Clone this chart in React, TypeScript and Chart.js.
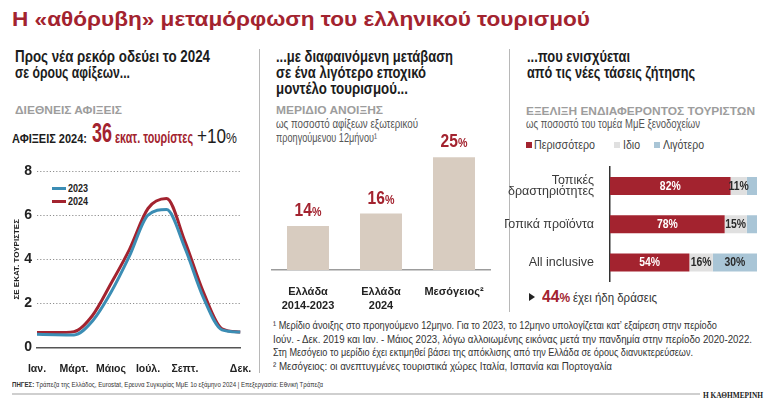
import React, { useEffect, useLayoutEffect, useRef } from 'react';
import { Chart, registerables } from 'chart.js';

Chart.register(...registerables);

const NARROW = '"Liberation Sans Narrow", "Arial Narrow", "Liberation Sans", Arial, sans-serif';
const SANS = '"Liberation Sans", Arial, "DejaVu Sans", sans-serif';
const SERIF = '"Liberation Serif", "DejaVu Serif", serif';

const RED = '#a3232f';
const BLUE = '#3b8db4';
const BEIGE = '#d8ccc0';
const LIGHT_GRAY = '#e0e0e0';
const LIGHT_BLUE = '#a9c5d6';
const HEAD_GRAY = '#9d9d9d';

// ---- Panel 1: international arrivals (million tourists per month)
const monthNumbers = [1, 2, 3, 4, 5, 6, 7, 8, 9, 10, 11, 12];
const arrivals2023 = [0.6, 0.58, 0.57, 1.2, 2.5, 4.15, 6.0, 6.25, 4.5, 2.25, 0.8, 0.7];
const arrivals2024 = [0.68, 0.68, 0.72, 1.45, 2.9, 4.45, 6.3, 6.75, 4.8, 2.5, 0.85, 0.7];
const seriesYears = ['2023', '2024'];
const monthTickValues = [1, 3, 5, 7, 9, 12];
const monthTickLabels = ['Ιαν.', 'Μάρτ.', 'Μάιος', 'Ιούλ.', 'Σεπτ.', 'Δεκ.'];
const arrivalTicks = [0, 2, 4, 6, 8];

// ---- Panel 2: spring share (%)
const springCategories = [['Ελλάδα', '2014-2023'], ['Ελλάδα', '2024'], ['Μεσόγειος²']];
const springShare = [14, 16, 25];

// ---- Panel 3: evolution of tourist interest (% of SME hotels)
const interestCategories = [['Τοπικές', 'δραστηριότητες'], ['Τοπικά προϊόντα'], ['All inclusive']];
const interestSeries = ['Περισσότερο', 'Ιδιο', 'Λιγότερο'];
const interestMore = [82, 78, 54];
const interestSame = [11, 15, 16];
const interestLess = [7, 7, 30];

type TxtProps = {
  x: number; base: number; size: number; w?: number; weight?: any; color?: string; family?: string;
  children: React.ReactNode;
};

function Txt({ x, base, size, w, weight = 400, color = '#222', family = NARROW, children }: TxtProps) {
  const ref = useRef<HTMLDivElement>(null);
  useLayoutEffect(() => {
    const el = ref.current;
    if (!el || !w) return;
    const fit = () => {
      el.style.transform = 'none';
      const actual = el.getBoundingClientRect().width;
      if (actual > 0) el.style.transform = `scaleX(${w / actual})`;
    };
    fit();
    if ((document as any).fonts && (document as any).fonts.ready) (document as any).fonts.ready.then(fit);
  }, [w]);
  return (
    <div
      ref={ref}
      style={{
        position: 'absolute', left: x, top: base - size * 0.8465, fontSize: size, lineHeight: `${size}px`,
        fontWeight: weight, color, fontFamily: family, whiteSpace: 'nowrap', transformOrigin: '0 0',
      }}
    >
      {children}
    </div>
  );
}

function Sp({ size, color, weight, children }: { size: number; color?: string; weight?: any; children: React.ReactNode }) {
  return <span style={{ fontSize: size, lineHeight: `${size}px`, color, fontWeight: weight }}>{children}</span>;
}

function ChartBox({ left, top, width, height, make }: { left: number; top: number; width: number; height: number; make: (c: HTMLCanvasElement) => Chart }) {
  const ref = useRef<HTMLCanvasElement>(null);
  useEffect(() => {
    const chart = make(ref.current as HTMLCanvasElement);
    return () => chart.destroy();
  }, []);
  return <canvas ref={ref} width={width} height={height} style={{ position: 'absolute', left, top, width, height }} />;
}

const zeroPad = (s: any) => { s.paddingLeft = 0; s.paddingRight = 0; s.paddingTop = 0; s.paddingBottom = 0; };

function makeLine(canvas: HTMLCanvasElement) {
  return new Chart(canvas, {
    type: 'line',
    data: {
      datasets: [
        {
          label: seriesYears[0],
          data: monthNumbers.map((m, i) => ({ x: m, y: arrivals2023[i] })),
          borderColor: BLUE, borderWidth: 3, pointRadius: 0, cubicInterpolationMode: 'monotone', fill: false,
        },
        {
          label: seriesYears[1],
          data: monthNumbers.map((m, i) => ({ x: m, y: arrivals2024[i] })),
          borderColor: RED, borderWidth: 3, pointRadius: 0, cubicInterpolationMode: 'monotone', fill: false,
        },
      ],
    },
    options: {
      responsive: false,
      animation: false,
      layout: { padding: { left: 0, right: 17.5, top: 11, bottom: 0 } },
      plugins: { legend: { display: false }, tooltip: { enabled: false } },
      scales: {
        x: {
          type: 'linear', min: 1, max: 12,
          grid: { display: false },
          border: { display: true, color: '#555', width: 1.5 },
          afterBuildTicks: (s: any) => { s.ticks = monthTickValues.map((v) => ({ value: v })); },
          ticks: {
            callback: (_v: any, i: number) => monthTickLabels[i],
            font: { family: SANS, size: 10.5, weight: 'bold' }, color: '#222', padding: 7,
            maxRotation: 0, autoSkip: false,
          },
          afterFit: (s: any) => { s.height = 27.5; zeroPad(s); },
        },
        y: {
          min: 0, max: 8,
          afterBuildTicks: (s: any) => { s.ticks = arrivalTicks.map((v) => ({ value: v })); },
          grid: {
            color: (c: any) => (c.tick && c.tick.value === 0 ? 'rgba(0,0,0,0)' : '#8f8f8f'),
            lineWidth: 1, drawTicks: false,
          },
          border: { display: false, dash: [1.2, 2] },
          ticks: { font: { family: SANS, size: 14, weight: 'bold' }, color: '#222', padding: 5 },
          title: {
            display: true, text: 'ΣΕ ΕΚΑΤ. ΤΟΥΡΙΣΤΕΣ',
            font: { family: SANS, size: 8, weight: 'bold' }, color: '#222', padding: { top: 12, bottom: 0 },
          },
          afterFit: (s: any) => { s.width = 37; zeroPad(s); },
        },
      },
    },
  } as any);
}

const springLabelPlugin = {
  id: 'springLabels',
  afterDatasetsDraw(chart: any) {
    const ctx = chart.ctx;
    const meta = chart.getDatasetMeta(0);
    const sx = 0.82;
    meta.data.forEach((bar: any, i: number) => {
      const num = String(chart.data.datasets[0].data[i]);
      const big = `bold 19px ${SANS}`;
      const small = `bold 13px ${SANS}`;
      ctx.save();
      ctx.font = big; const w1 = ctx.measureText(num).width;
      ctx.font = small; const w2 = ctx.measureText('%').width;
      const y = bar.y - 10;
      ctx.translate(bar.x, y);
      ctx.scale(sx, 1);
      const x0 = -(w1 + w2) / 2;
      ctx.fillStyle = RED; ctx.textAlign = 'left'; ctx.textBaseline = 'alphabetic';
      ctx.font = big; ctx.fillText(num, x0, 0);
      ctx.font = small; ctx.fillText('%', x0 + w1, 0);
      ctx.restore();
    });
  },
};

function makeSpring(canvas: HTMLCanvasElement) {
  return new Chart(canvas, {
    type: 'bar',
    data: {
      labels: springCategories,
      datasets: [{ data: springShare, backgroundColor: BEIGE, barPercentage: 0.575, categoryPercentage: 1 }],
    },
    options: {
      responsive: false,
      animation: false,
      layout: { padding: { left: 9.5, right: 11.5, top: 14.6, bottom: 0 } },
      plugins: { legend: { display: false }, tooltip: { enabled: false } },
      scales: {
        x: {
          grid: { display: false },
          border: { display: true, color: '#9c9c9c', width: 1.5 },
          ticks: {
            font: { family: SANS, size: 11, weight: 'bold', lineHeight: 1.3 }, color: '#222', padding: 7,
            maxRotation: 0, autoSkip: false,
          },
          afterFit: (s: any) => { s.height = 40; zeroPad(s); },
        },
        y: { display: false, min: 7, max: 27 },
      },
    },
    plugins: [springLabelPlugin],
  } as any);
}

const interestLabelPlugin = {
  id: 'interestLabels',
  afterDatasetsDraw(chart: any) {
    const ctx = chart.ctx;
    chart.data.datasets.forEach((ds: any, d: number) => {
      const meta = chart.getDatasetMeta(d);
      meta.data.forEach((el: any, i: number) => {
        const v = ds.data[i];
        if (v < 10) return;
        const { x, y, base } = el.getProps(['x', 'y', 'base'], true);
        ctx.save();
        ctx.translate((x + base) / 2, y + 0.5);
        ctx.scale(0.8, 1);
        ctx.font = `bold 13px ${SANS}`;
        ctx.fillStyle = d === 0 ? '#ffffff' : '#2a2a2a';
        ctx.textAlign = 'center';
        ctx.textBaseline = 'middle';
        ctx.fillText(`${v}%`, 0, 0);
        ctx.restore();
      });
    });
  },
};

function makeInterest(canvas: HTMLCanvasElement) {
  return new Chart(canvas, {
    type: 'bar',
    data: {
      labels: interestCategories,
      datasets: [
        { label: interestSeries[0], data: interestMore, backgroundColor: RED },
        { label: interestSeries[1], data: interestSame, backgroundColor: LIGHT_GRAY },
        { label: interestSeries[2], data: interestLess, backgroundColor: LIGHT_BLUE },
      ],
    },
    options: {
      indexAxis: 'y',
      responsive: false,
      animation: false,
      datasets: { bar: { barPercentage: 0.47, categoryPercentage: 1 } },
      layout: { padding: { left: 0, right: 11, top: 7, bottom: 3.5 } },
      plugins: { legend: { display: false }, tooltip: { enabled: false } },
      scales: {
        x: { stacked: true, min: 0, max: 100, display: false },
        y: {
          stacked: true,
          grid: { display: false },
          border: { display: true, color: '#333', width: 1.5 },
          ticks: { font: { family: SANS, size: 12.5, lineHeight: 0.95 }, color: '#3a3a3a', padding: 8, autoSkip: false },
          afterFit: (s: any) => { s.width = 105; zeroPad(s); },
        },
      },
    },
    plugins: [interestLabelPlugin],
  } as any);
}

export default function App() {
  return (
    <div style={{ position: 'absolute', left: 0, top: 0, width: 768, height: 403, background: '#fff', overflow: 'hidden' }}>
      {/* Title */}
      <Txt x={12} base={26} size={20} w={578} weight={700} color={RED} family={SANS}>
        Η «αθόρυβη» μεταμόρφωση του ελληνικού τουρισμού
      </Txt>

      {/* Separators */}
      <div style={{ position: 'absolute', left: 259, top: 49, width: 1, height: 324, background: '#b8b8b8' }} />
      <div style={{ position: 'absolute', left: 509, top: 49, width: 1, height: 263, background: '#b8b8b8' }} />

      {/* Panel 1 texts */}
      <Txt x={15} base={63} size={16} w={195} weight={700} color="#1c1c1c">Προς νέα ρεκόρ οδεύει το 2024</Txt>
      <Txt x={15} base={79} size={16} w={115} weight={700} color="#1c1c1c">σε όρους αφίξεων...</Txt>
      <Txt x={15} base={114} size={11} w={107} weight={700} color={HEAD_GRAY} family={SANS}>ΔΙΕΘΝΕΙΣ ΑΦΙΞΕΙΣ</Txt>
      <Txt x={12} base={143} size={12} w={75} weight={700} color="#1c1c1c">ΑΦΙΞΕΙΣ 2024:</Txt>
      <Txt x={92} base={143} size={28} w={20} weight={700} color={RED}>36</Txt>
      <Txt x={115} base={143} size={17} w={78} weight={700} color={RED}>εκατ. τουρίστες</Txt>
      <Txt x={197} base={143} size={21} w={40} weight={400} color="#1c1c1c">
        +10<Sp size={15}>%</Sp>
      </Txt>

      {/* Panel 1 legend */}
      <div style={{ position: 'absolute', left: 52, top: 186.5, width: 14, height: 3, background: BLUE }} />
      <div style={{ position: 'absolute', left: 52, top: 199.5, width: 14, height: 3, background: RED }} />
      <Txt x={68} base={192} size={11} w={20} weight={700} color="#222">{seriesYears[0]}</Txt>
      <Txt x={68} base={205} size={11} w={20} weight={700} color="#222">{seriesYears[1]}</Txt>

      <ChartBox left={0} top={160} width={258} height={215} make={makeLine} />

      {/* Panel 2 texts */}
      <Txt x={276} base={63} size={16} w={177} weight={700} color="#1c1c1c">...με διαφαινόμενη μετάβαση</Txt>
      <Txt x={276} base={79} size={16} w={150} weight={700} color="#1c1c1c">σε ένα λιγότερο εποχικό</Txt>
      <Txt x={276} base={95} size={16} w={132} weight={700} color="#1c1c1c">μοντέλο τουρισμού...</Txt>
      <Txt x={276} base={114} size={11} w={107} weight={700} color={HEAD_GRAY} family={SANS}>ΜΕΡΙΔΙΟ ΑΝΟΙΞΗΣ</Txt>
      <Txt x={276} base={128} size={12} w={142} color="#555">ως ποσοστό αφίξεων εξωτερικού</Txt>
      <Txt x={276} base={142} size={12} w={101} color="#555">προηγούμενου 12μήνου¹</Txt>

      <ChartBox left={262} top={130} width={240} height={180} make={makeSpring} />

      {/* Panel 3 texts */}
      <Txt x={527} base={63} size={16} w={103} weight={700} color="#1c1c1c">...που ενισχύεται</Txt>
      <Txt x={527} base={79} size={16} w={168} weight={700} color="#1c1c1c">από τις νέες τάσεις ζήτησης</Txt>
      <Txt x={526} base={115} size={11} w={229} weight={700} color={HEAD_GRAY} family={SANS}>ΕΞΕΛΙΞΗ ΕΝΔΙΑΦΕΡΟΝΤΟΣ ΤΟΥΡΙΣΤΩΝ</Txt>
      <Txt x={526} base={128} size={12} w={174} color="#555">ως ποσοστό του τομέα ΜμΕ ξενοδοχείων</Txt>

      <div style={{ position: 'absolute', left: 526, top: 142, width: 6, height: 6, background: RED }} />
      <Txt x={534} base={149} size={13} w={61} color="#444">{interestSeries[0]}</Txt>
      <div style={{ position: 'absolute', left: 614, top: 142, width: 6, height: 6, background: LIGHT_GRAY }} />
      <Txt x={623} base={149} size={13} w={17} color="#444">{interestSeries[1]}</Txt>
      <div style={{ position: 'absolute', left: 654, top: 142, width: 6, height: 6, background: LIGHT_BLUE }} />
      <Txt x={663} base={149} size={13} w={41} color="#444">{interestSeries[2]}</Txt>

      <ChartBox left={505} top={160} width={263} height={125} make={makeInterest} />

      <div style={{ position: 'absolute', left: 529, top: 293, width: 0, height: 0, borderTop: '4px solid transparent', borderBottom: '4px solid transparent', borderLeft: '6px solid #222' }} />
      <Txt x={542} base={302.5} size={17} w={28} weight={700} color={RED}>
        44<Sp size={13}>%</Sp>
      </Txt>
      <Txt x={573} base={302} size={13} w={84} color="#333">έχει ήδη δράσεις</Txt>

      {/* Footnotes */}
      <Txt x={273} base={329} size={11} w={444} color="#333">¹ Μερίδιο άνοιξης στο προηγούμενο 12μηνο. Για το 2023, το 12μηνο υπολογίζεται κατ’ εξαίρεση στην περίοδο</Txt>
      <Txt x={273} base={343} size={11} w={479} color="#333">Ιούν. - Δεκ. 2019 και Ιαν. - Μάιος 2023, λόγω αλλοιωμένης εικόνας μετά την πανδημία στην περίοδο 2020-2022.</Txt>
      <Txt x={273} base={356.5} size={11} w={420} color="#333">Στη Μεσόγειο το μερίδιο έχει εκτιμηθεί βάσει της απόκλισης από την Ελλάδα σε όρους διανυκτερεύσεων.</Txt>
      <Txt x={273} base={370} size={11} w={339} color="#333">² Μεσόγειος: οι ανεπτυγμένες τουριστικά χώρες Ιταλία, Ισπανία και Πορτογαλία</Txt>

      {/* Sources & footer */}
      <Txt x={12} base={388} size={8} w={311} color="#333">
        <b>ΠΗΓΕΣ:</b> Τράπεζα της Ελλάδος, Eurostat, Ερευνα Συγκυρίας ΜμΕ 1ο εξάμηνο 2024 | Επεξεργασία: Εθνική Τράπεζα
      </Txt>
      <div style={{ position: 'absolute', left: 12, top: 393, width: 688, height: 2, background: '#cfcfcf' }} />
      <Txt x={703} base={398.5} size={9} w={60} weight={700} color="#222" family={SERIF}>Η ΚΑΘΗΜΕΡΙΝΗ</Txt>
    </div>
  );
}
